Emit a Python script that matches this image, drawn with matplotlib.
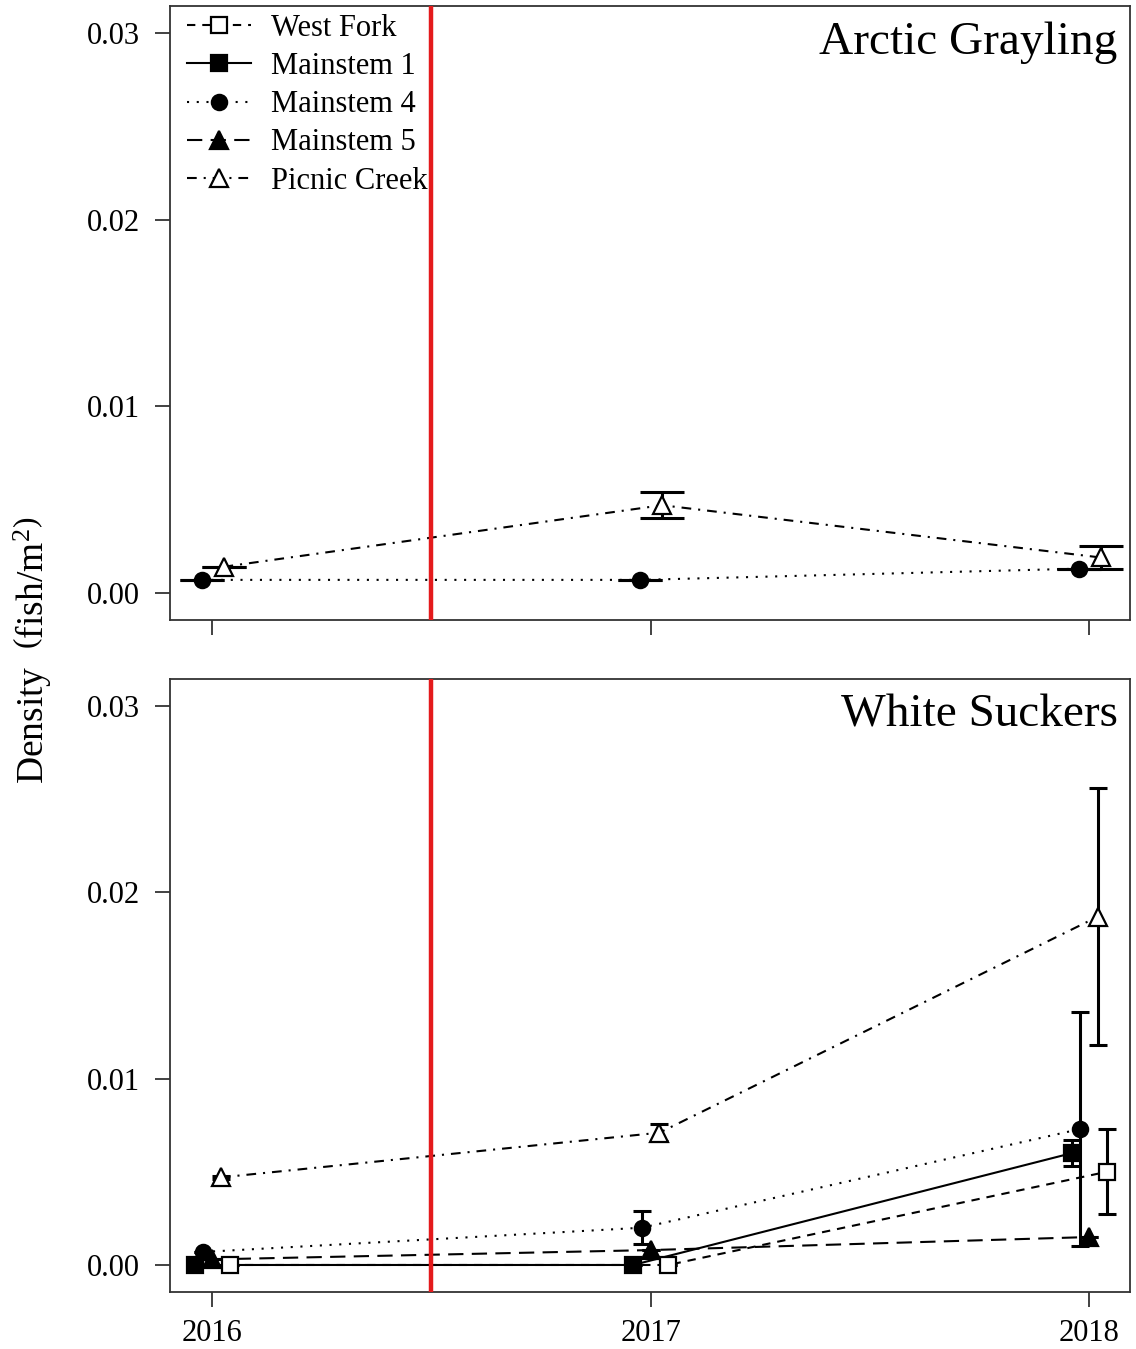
import matplotlib
matplotlib.use("Agg")
import matplotlib.pyplot as plt
from matplotlib.lines import Line2D
import numpy as np

plt.rcParams['font.family'] = ['Liberation Serif', 'DejaVu Serif']
plt.rcParams['mathtext.fontset'] = 'custom'
plt.rcParams['mathtext.rm'] = 'Liberation Serif'
plt.rcParams['mathtext.it'] = 'Liberation Serif:italic'
plt.rcParams['lines.scale_dashes'] = False

years = [2016, 2017, 2018]
year_labels = ["2016", "2017", "2018"]
sites = ["West Fork", "Mainstem 1", "Mainstem 4", "Mainstem 5", "Picnic Creek"]

# Arctic Grayling (top panel): mean density and error half-width
grayling_mainstem4 = [0.0007, 0.0007, 0.0013]
grayling_mainstem4_err = [0.0, 0.0, 0.0]
grayling_picnic = [0.0014, 0.0047, 0.0019]
grayling_picnic_err = [0.0, 0.0007, 0.0006]

# White Suckers (bottom panel)
sucker_mainstem1 = [0.0, 0.0, 0.0060]
sucker_mainstem1_err = [0.0, 0.0, 0.0007]
sucker_mainstem4 = [0.0007, 0.0020, 0.0073]
sucker_mainstem4_err = [0.0, 0.0009, 0.0063]
sucker_mainstem5 = [0.0003, 0.0008, 0.0015]
sucker_mainstem5_err = [0.0, 0.0, 0.0]
sucker_picnic = [0.0047, 0.0071, 0.0187]
sucker_picnic_err = [0.0001, 0.00045, 0.0069]
sucker_westfork = [0.0, 0.0, 0.0050]
sucker_westfork_err = [0.0, 0.0, 0.00228]

yticks = [0.00, 0.01, 0.02, 0.03]
ytick_labels = ["0.00", "0.01", "0.02", "0.03"]
impact_year = 2016.5

styles = {
    "West Fork": dict(ls=(0, (6, 5)), marker='s', mfc='white', ms=11),
    "Mainstem 1": dict(ls='-', marker='s', mfc='black', ms=11),
    "Mainstem 4": dict(ls=(0, (1.5, 5.5)), marker='o', mfc='black', ms=11),
    "Mainstem 5": dict(ls=(0, (11, 6)), marker='^', mfc='black', ms=13),
    "Picnic Creek": dict(ls=(0, (7, 5, 1.5, 5)), marker='^', mfc='white', ms=13),
}

W, H = 1136, 1349
fig = plt.figure(figsize=(W / 100, H / 100), dpi=100)

def fx(px):
    return px / W

def fy(py):
    return 1 - py / H

ax1 = fig.add_axes([fx(170), fy(620), fx(1130) - fx(170), fy(6) - fy(620)])
ax2 = fig.add_axes([fx(170), fy(1292), fx(1130) - fx(170), fy(679) - fy(1292)])

def draw(ax, site, vals, errs, dx, capsize):
    st = styles[site]
    x = np.array(years, dtype=float) + dx
    ax.plot(x, vals, color='black', lw=1.5, linestyle=st['ls'], zorder=2)
    ax.errorbar(x, vals, yerr=errs, fmt='none', ecolor='black', elinewidth=2.2,
                capsize=capsize, capthick=2.2, zorder=3)
    ax.plot(x, vals, linestyle='none', marker=st['marker'], ms=st['ms'],
            mfc=st['mfc'], mec='black', mew=1.6, zorder=4)

draw(ax1, "Mainstem 4", grayling_mainstem4, grayling_mainstem4_err, -0.024, 16)
draw(ax1, "Picnic Creek", grayling_picnic, grayling_picnic_err, 0.026, 16)

draw(ax2, "Mainstem 1", sucker_mainstem1, sucker_mainstem1_err, -0.04, 6.5)
draw(ax2, "Mainstem 4", sucker_mainstem4, sucker_mainstem4_err, -0.02, 6.5)
draw(ax2, "Mainstem 5", sucker_mainstem5, sucker_mainstem5_err, 0.0, 6.5)
draw(ax2, "Picnic Creek", sucker_picnic, sucker_picnic_err, 0.02, 6.5)
draw(ax2, "West Fork", sucker_westfork, sucker_westfork_err, 0.04, 6.5)

for ax in (ax1, ax2):
    ax.axvline(impact_year, color='#E41A1C', lw=3.2, zorder=5)
    ax.set_xlim(2015.904, 2018.093)
    ax.set_ylim(-0.00145, 0.03145)
    ax.set_yticks(yticks)
    ax.set_yticklabels(ytick_labels)
    ax.set_xticks(years)
    ax.tick_params(axis='both', direction='out', length=10.5, width=1.3,
                   color='#333333', labelsize=22)
    ax.tick_params(axis='y', pad=11)
    ax.tick_params(axis='x', pad=9)
    for sp in ax.spines.values():
        sp.set_linewidth(1.3)
        sp.set_color('#333333')

ax1.set_xticklabels([])
ax2.set_xticklabels(year_labels)

ax1.text(0.987, 0.975, "Arctic Grayling", transform=ax1.transAxes,
         ha='right', va='top', fontsize=34)
ax2.text(0.987, 0.975, "White Suckers", transform=ax2.transAxes,
         ha='right', va='top', fontsize=34)

handles = []
for s in sites:
    st = styles[s]
    handles.append(Line2D([0], [0], color='black', lw=1.5, linestyle=st['ls'],
                          marker=st['marker'], ms=st['ms'], mfc=st['mfc'],
                          mec='black', mew=1.6))
ax1.legend(handles, sites, loc='upper left', bbox_to_anchor=(-0.005, 1.022),
           frameon=False, fontsize=22, handlelength=2.1, handletextpad=0.65,
           labelspacing=0.3, borderaxespad=0.3)

fig.text(fx(33), fy(650), r"Density  $\left(\mathrm{fish/m^2}\right)$",
         rotation=90, ha='center', va='center', fontsize=27)

fig.savefig("out.png", dpi=100)
